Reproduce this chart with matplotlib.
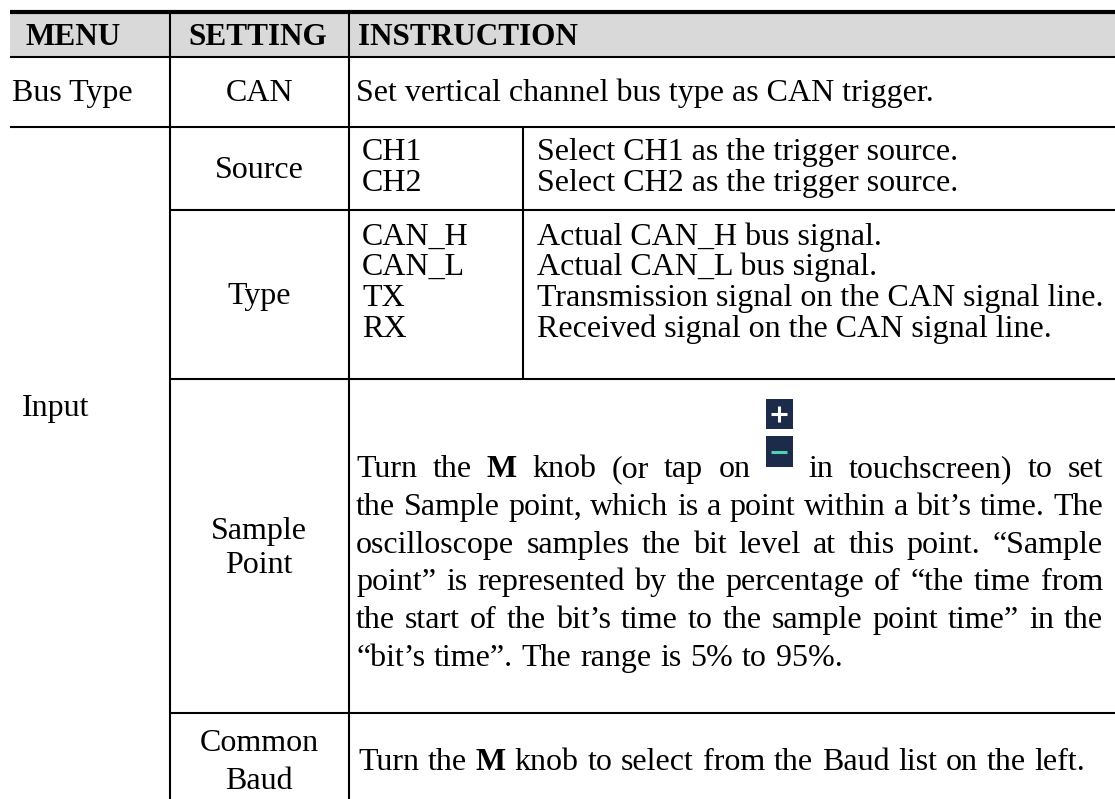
import matplotlib
matplotlib.use('Agg')
import matplotlib.pyplot as plt
from matplotlib.patches import Rectangle

# ---------------- data ----------------
headers = ['MENU', 'SETTING', 'INSTRUCTION']
menus = ['Bus Type', 'Input']
bus_setting = 'CAN'
bus_instruction = 'Set vertical channel bus type as CAN trigger.'
source_label = 'Source'
source_options = ['CH1', 'CH2']
source_desc = ['Select CH1 as the trigger source.',
               'Select CH2 as the trigger source.']
type_label = 'Type'
type_options = ['CAN_H', 'CAN_L', 'TX', 'RX']
type_desc = ['Actual CAN_H bus signal.',
             'Actual CAN_L bus signal.',
             'Transmission signal on the CAN signal line.',
             'Received signal on the CAN signal line.']
sample_label = ['Sample', 'Point']
sample_lines = [
    'Turn the **M** knob (or tap on [ICON] in touchscreen) to set',
    'the Sample point, which is a point within a bit\u2019s time. The',
    'oscilloscope samples the bit level at this point. \u201cSample',
    'point\u201d is represented by the percentage of \u201cthe time from',
    'the start of the bit\u2019s time to the sample point time\u201d in the',
    '\u201cbit\u2019s time\u201d. The range is 5% to 95%.',
]
baud_label = ['Common', 'Baud']
baud_text = 'Turn the **M** knob to select from the Baud list on the left.'

# ---------------- layout ----------------
W, H = 1115, 799
fig = plt.figure(figsize=(W / 100, H / 100), dpi=100)
ax = fig.add_axes([0, 0, 1, 1])
ax.set_xlim(0, W)
ax.set_ylim(H, 0)
ax.axis('off')

FONT = 'Liberation Serif'
FS = 23
FS_HEAD = 22.5
THIN = 1.5
THICK = 3.0

X0, XC1, XC2, XSUB, XR = 10, 170, 348.5, 523, 1115
Y_TOP, Y_HEAD, Y_BUS, Y_SRC, Y_TYPE, Y_SAMP = 12, 56.5, 126.5, 210, 379, 713

# header background
ax.add_patch(Rectangle((X0, Y_TOP), XR - X0, Y_HEAD - Y_TOP,
                       facecolor='#d9d9d9', edgecolor='none', zorder=0))

def hline(y, x0, x1, lw=THIN):
    ax.plot([x0, x1], [y, y], color='black', lw=lw, solid_capstyle='butt', zorder=3)

def vline(x, y0, y1, lw=THIN):
    ax.plot([x, x], [y0, y1], color='black', lw=lw, solid_capstyle='butt', zorder=3)

hline(Y_TOP, X0, XR, THICK)
hline(Y_HEAD, X0, XR)
hline(Y_BUS, X0, XR)
hline(Y_SRC, XC1, XR)
hline(Y_TYPE, XC1, XR)
hline(Y_SAMP, XC1, XR)
vline(XC1, Y_TOP, H)
vline(XC2, Y_TOP, H)
vline(XSUB, Y_BUS, Y_TYPE)

def txt(x, y, s, ha='left', weight='normal', fs=FS):
    return ax.text(x, y, s, ha=ha, va='baseline', fontsize=fs,
                   family=FONT, weight=weight, color='black', zorder=4)

MID = (XC1 + XC2) / 2

# header
txt(25, 45, headers[0], weight='bold', fs=FS_HEAD)
txt(MID - 2, 45, headers[1], ha='center', weight='bold', fs=FS_HEAD)
txt(358, 45, headers[2], weight='bold', fs=FS_HEAD)

# bus type row
txt(12, 101, menus[0])
txt(MID, 101, bus_setting, ha='center')
txt(356, 101, bus_instruction)

# input
txt(22, 416, menus[1])

# source
src_base = [160, 190.7]
txt(MID, 178, source_label, ha='center')
for b, o, d in zip(src_base, source_options, source_desc):
    txt(362, b, o)
    txt(537, b, d)

# type
type_base = [244.5, 275.2, 305.9, 336.6]
txt(MID, 304, type_label, ha='center')
for b, o, d in zip(type_base, type_options, type_desc):
    txt(362, b, o)
    txt(537, b, d)

# sample point
for b, s in zip([539, 573], sample_label):
    txt(MID, b, s, ha='center')

renderer = fig.canvas.get_renderer()

def width(s, weight='normal'):
    t = ax.text(0, 0, s, fontsize=FS, family=FONT, weight=weight)
    w = t.get_window_extent(renderer).width
    t.remove()
    return w

SPACE = width('a a') - width('aa')
ICON_W = 27

def tokens(line):
    out = []
    for w in line.split(' '):
        if w == '[ICON]':
            out.append(('icon', None, ICON_W))
        elif w.startswith('**') and w.endswith('**'):
            s = w[2:-2]
            out.append(('text', (s, 'bold'), width(s, 'bold')))
        else:
            out.append(('text', (w, 'normal'), width(w)))
    return out

def draw_icon(x, base):
    navy = '#1c2b4a'
    top = base - 78
    ax.add_patch(Rectangle((x, top), ICON_W, 30, facecolor=navy, edgecolor='none', zorder=4))
    ax.add_patch(Rectangle((x, top + 37), ICON_W, 31, facecolor=navy, edgecolor='none', zorder=4))
    cx = x + ICON_W / 2
    cy = top + 15
    ax.plot([cx - 8, cx + 8], [cy, cy], color='white', lw=2.2, zorder=5, solid_capstyle='butt')
    ax.plot([cx, cx], [cy - 8, cy + 8], color='white', lw=2.2, zorder=5, solid_capstyle='butt')
    cy2 = top + 52.5
    ax.plot([cx - 8, cx + 8], [cy2, cy2], color='#4fd0b0', lw=2.2, zorder=5, solid_capstyle='butt')

def draw_line(line, x0, x1, base, justify):
    toks = tokens(line)
    total = sum(t[2] for t in toks)
    gap = (x1 - x0 - total) / (len(toks) - 1) if justify and len(toks) > 1 else SPACE * 1.1
    x = x0
    for kind, val, w in toks:
        if kind == 'icon':
            draw_icon(x, base)
        else:
            txt(x, base, val[0], weight=val[1])
        x += w + gap

PX0, PX1 = 356, 1103
for i, line in enumerate(sample_lines):
    draw_line(line, PX0, PX1, 477 + 37.8 * i, justify=(i < len(sample_lines) - 1))

# common baud
for b, s in zip([751, 789], baud_label):
    txt(MID, b, s, ha='center')
draw_line(baud_text, 358, PX1, 770, justify=False)

fig.savefig('out.png', dpi=100)
